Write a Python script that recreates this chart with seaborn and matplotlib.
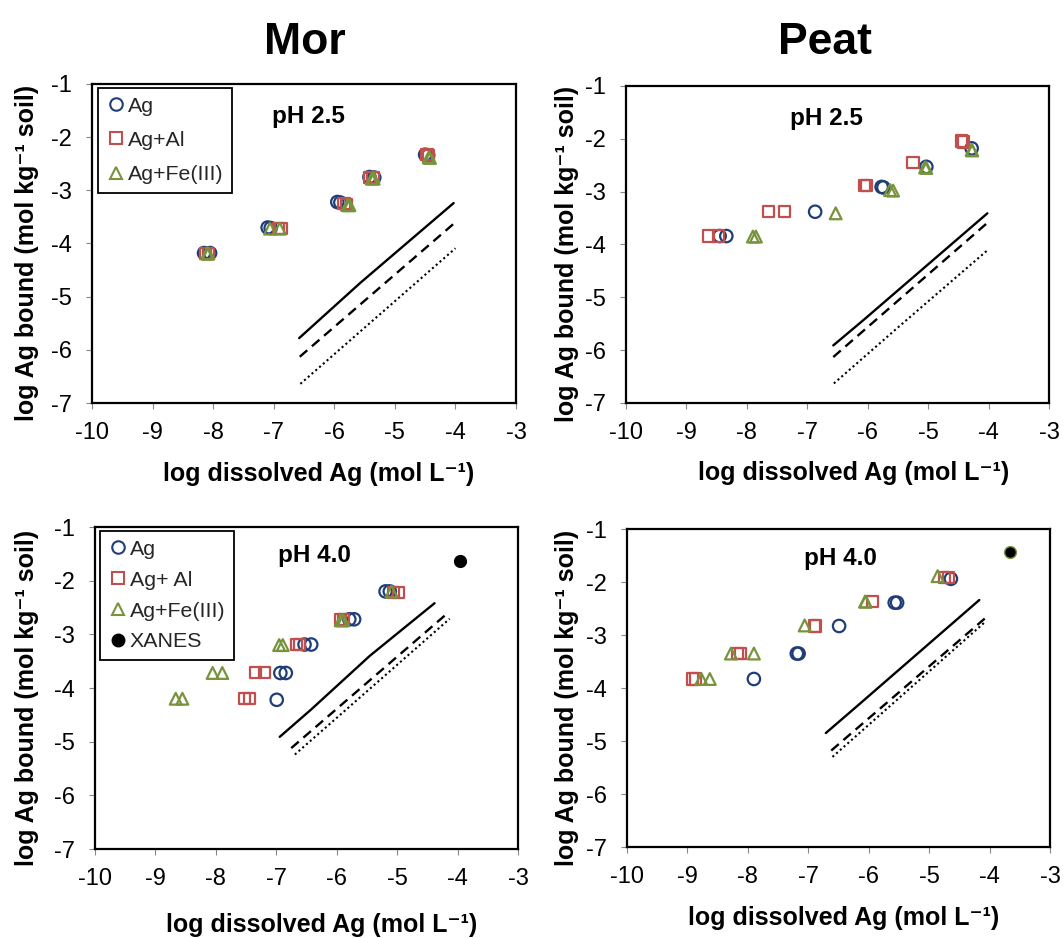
import matplotlib
matplotlib.use("Agg")
import matplotlib.pyplot as plt
from matplotlib.lines import Line2D
import seaborn as sns

# ---------------- data ----------------
# Mor, pH 2.5
mor25_ag_x = [-8.15, -8.05, -7.10, -7.05, -5.95, -5.90, -5.42, -5.34, -4.50, -4.45]
mor25_ag_y = [-4.18, -4.18, -3.70, -3.71, -3.22, -3.23, -2.75, -2.76, -2.33, -2.34]
mor25_al_x = [-8.13, -8.08, -6.92, -6.88, -5.84, -5.80, -5.42, -5.36, -4.47, -4.44]
mor25_al_y = [-4.18, -4.18, -3.72, -3.72, -3.25, -3.26, -2.76, -2.76, -2.33, -2.34]
mor25_fe_x = [-8.10, -8.08, -7.06, -6.90, -5.78, -5.75, -5.38, -5.35, -4.44, -4.42]
mor25_fe_y = [-4.19, -4.19, -3.72, -3.72, -3.28, -3.28, -2.78, -2.78, -2.38, -2.39]
mor25_solid_x = [-6.58, -5.57, -4.03]
mor25_solid_y = [-5.78, -4.74, -3.24]
mor25_dash_x = [-6.57, -4.00]
mor25_dash_y = [-6.13, -3.60]
mor25_dot_x = [-6.56, -4.00]
mor25_dot_y = [-6.64, -4.09]

# Peat, pH 2.5
peat25_ag_x = [-8.45, -8.34, -6.87, -5.77, -5.74, -5.03, -4.28]
peat25_ag_y = [-3.84, -3.84, -3.38, -2.91, -2.92, -2.53, -2.18]
peat25_al_x = [-8.63, -8.47, -7.64, -7.38, -6.06, -6.02, -5.25, -4.45, -4.42]
peat25_al_y = [-3.84, -3.84, -3.37, -3.37, -2.88, -2.88, -2.45, -2.04, -2.06]
peat25_fe_x = [-7.90, -7.85, -6.53, -5.63, -5.58, -5.05, -5.03, -4.28, -4.27]
peat25_fe_y = [-3.85, -3.85, -3.41, -2.97, -2.98, -2.54, -2.55, -2.21, -2.22]
peat25_solid_x = [-6.57, -6.07, -4.02]
peat25_solid_y = [-5.91, -5.43, -3.41]
peat25_dash_x = [-6.57, -4.02]
peat25_dash_y = [-6.13, -3.59]
peat25_dot_x = [-6.56, -5.52, -4.02]
peat25_dot_y = [-6.63, -5.59, -4.11]

# Mor, pH 4.0
mor40_ag_x = [-6.99, -6.93, -6.84, -6.53, -6.42, -5.79, -5.71, -5.19, -5.12]
mor40_ag_y = [-4.22, -3.72, -3.72, -3.19, -3.19, -2.72, -2.72, -2.20, -2.20]
mor40_al_x = [-7.53, -7.44, -7.34, -7.19, -6.66, -6.62, -5.94, -5.89, -5.06, -4.98]
mor40_al_y = [-4.20, -4.20, -3.71, -3.71, -3.19, -3.19, -2.72, -2.72, -2.22, -2.22]
mor40_fe_x = [-8.66, -8.55, -8.05, -7.89, -6.95, -6.89, -5.93, -5.89, -5.09]
mor40_fe_y = [-4.20, -4.20, -3.72, -3.72, -3.20, -3.20, -2.74, -2.74, -2.20]
mor40_xanes_x = [-3.96]
mor40_xanes_y = [-1.64]
mor40_solid_x = [-6.94, -6.42, -5.45, -4.38]
mor40_solid_y = [-4.91, -4.40, -3.40, -2.42]
mor40_dash_x = [-6.75, -4.19]
mor40_dash_y = [-5.12, -2.63]
mor40_dot_x = [-6.69, -4.13]
mor40_dot_y = [-5.24, -2.71]

# Peat, pH 4.0
peat40_ag_x = [-7.90, -7.19, -7.16, -6.49, -5.57, -5.53, -4.64]
peat40_ag_y = [-3.83, -3.35, -3.35, -2.83, -2.39, -2.39, -1.94]
peat40_al_x = [-8.92, -8.87, -8.17, -8.12, -6.90, -6.88, -5.94, -4.74, -4.68]
peat40_al_y = [-3.83, -3.83, -3.35, -3.35, -2.83, -2.83, -2.37, -1.92, -1.92]
peat40_fe_x = [-8.77, -8.63, -8.28, -7.90, -7.06, -6.06, -6.05, -4.86]
peat40_fe_y = [-3.83, -3.83, -3.35, -3.35, -2.82, -2.37, -2.37, -1.89]
peat40_xanes_x = [-3.67]
peat40_xanes_y = [-1.43]
peat40_solid_x = [-6.71, -6.16, -4.17]
peat40_solid_y = [-4.85, -4.31, -2.34]
peat40_dash_x = [-6.62, -4.08]
peat40_dash_y = [-5.18, -2.69]
peat40_dot_x = [-6.60, -4.07]
peat40_dot_y = [-5.30, -2.75]

x_ticks = [-10, -9, -8, -7, -6, -5, -4, -3]
y_ticks = [-7, -6, -5, -4, -3, -2, -1]
column_titles = ["Mor", "Peat"]
legend_labels_25 = ["Ag", "Ag+Al", "Ag+Fe(III)"]
legend_labels_40 = ["Ag", "Ag+ Al", "Ag+Fe(III)", "XANES"]

# ---------------- style ----------------
sns.set_theme(style="white")
plt.rcParams["font.family"] = ["Liberation Sans", "DejaVu Sans"]
plt.rcParams["axes.unicode_minus"] = False

C_AG = "#1F3E78"
C_AL = "#C0504D"
C_FE = "#77933C"

fig = plt.figure(figsize=(10.63, 9.38), dpi=100)
fig.patch.set_facecolor("white")

W, H = 1063.0, 938.0
def add_ax(l, t, r, b):
    return fig.add_axes([l / W, 1 - b / H, (r - l) / W, (b - t) / H])

ax_tl = add_ax(92, 84, 516, 403)
ax_tr = add_ax(626, 86, 1049, 403)
ax_bl = add_ax(94.7, 527, 518, 849)
ax_br = add_ax(627, 529, 1050, 847)

XLAB = "log dissolved Ag (mol L\u207b\u00b9)"
YLAB = "log Ag bound (mol kg\u207b\u00b9 soil)"


def draw_panel(ax, ag, al, fe, solid, dash, dot, ph_text, ph_xy,
               xlab_xy, ylab_xy, xanes=None, xanes_edge="black"):
    for (xs, ys), c, m, s in [(ag, C_AG, "o", 80), (al, C_AL, "s", 64), (fe, C_FE, "^", 72)]:
        sns.scatterplot(x=xs, y=ys, ax=ax, marker=m, s=s, color=c,
                        facecolor="none", edgecolor=c, linewidth=1.6,
                        legend=False, zorder=3)
    if xanes is not None:
        sns.scatterplot(x=xanes[0], y=xanes[1], ax=ax, marker="o", s=72,
                        color="black", edgecolor=xanes_edge, linewidth=1.0,
                        legend=False, zorder=3)
    sns.lineplot(x=solid[0], y=solid[1], ax=ax, color="black", linewidth=1.7,
                 sort=False, estimator=None, legend=False)
    sns.lineplot(x=dash[0], y=dash[1], ax=ax, color="black", linewidth=1.7,
                 linestyle=(0, (4.2, 2.6)), sort=False, estimator=None, legend=False)
    sns.lineplot(x=dot[0], y=dot[1], ax=ax, color="black", linewidth=1.5,
                 linestyle=(0, (1, 1.4)), sort=False, estimator=None, legend=False)

    ax.set_xlim(-10, -3)
    ax.set_ylim(-7, -1)
    ax.set_xticks(x_ticks)
    ax.set_yticks(y_ticks)
    ax.set_xticklabels([str(v) for v in x_ticks])
    ax.set_yticklabels([str(v) for v in y_ticks])
    ax.tick_params(axis="x", which="both", bottom=True, top=False, direction="out",
                   length=4.3, width=0.8, color="#888888", labelsize=17, pad=9.5,
                   labelcolor="black")
    ax.tick_params(axis="y", which="both", left=True, right=False, direction="out",
                   length=4.3, width=0.8, color="#888888", labelsize=17, pad=10,
                   labelcolor="black")
    for sp in ax.spines.values():
        sp.set_visible(True)
        sp.set_color("black")
        sp.set_linewidth(1.6)
    ax.set_facecolor("white")
    ax.grid(False)

    ax.text(ph_xy[0], ph_xy[1], ph_text, ha="center", va="center",
            fontsize=17.5, fontweight="bold", color="black")

    ax.set_xlabel(XLAB, fontsize=18, fontweight="bold", color="black")
    ax.set_ylabel(YLAB, fontsize=18, fontweight="bold", color="black")
    ax.xaxis.set_label_coords(*xlab_xy)
    ax.yaxis.set_label_coords(*ylab_xy)


draw_panel(ax_tl, (mor25_ag_x, mor25_ag_y), (mor25_al_x, mor25_al_y),
           (mor25_fe_x, mor25_fe_y), (mor25_solid_x, mor25_solid_y),
           (mor25_dash_x, mor25_dash_y), (mor25_dot_x, mor25_dot_y),
           "pH 2.5", (-6.42, -1.62), (0.534, -0.185), (-0.125, 0.47))
draw_panel(ax_tr, (peat25_ag_x, peat25_ag_y), (peat25_al_x, peat25_al_y),
           (peat25_fe_x, peat25_fe_y), (peat25_solid_x, peat25_solid_y),
           (peat25_dash_x, peat25_dash_y), (peat25_dot_x, peat25_dot_y),
           "pH 2.5", (-6.69, -1.61), (0.539, -0.183), (-0.111, 0.47))
draw_panel(ax_bl, (mor40_ag_x, mor40_ag_y), (mor40_al_x, mor40_al_y),
           (mor40_fe_x, mor40_fe_y), (mor40_solid_x, mor40_solid_y),
           (mor40_dash_x, mor40_dash_y), (mor40_dot_x, mor40_dot_y),
           "pH 4.0", (-6.36, -1.54), (0.536, -0.200), (-0.131, 0.47),
           xanes=(mor40_xanes_x, mor40_xanes_y), xanes_edge="black")
draw_panel(ax_br, (peat40_ag_x, peat40_ag_y), (peat40_al_x, peat40_al_y),
           (peat40_fe_x, peat40_fe_y), (peat40_solid_x, peat40_solid_y),
           (peat40_dash_x, peat40_dash_y), (peat40_dot_x, peat40_dot_y),
           "pH 4.0", (-6.47, -1.55), (0.512, -0.186), (-0.113, 0.47),
           xanes=(peat40_xanes_x, peat40_xanes_y), xanes_edge=C_FE)


def marker_handle(m, c, filled=False, ms=9):
    return Line2D([], [], linestyle="", marker=m, markersize=ms,
                  markerfacecolor=(c if filled else "none"),
                  markeredgecolor=c, markeredgewidth=1.5)


h25 = [marker_handle("o", C_AG, ms=9), marker_handle("s", C_AL, ms=8),
       marker_handle("^", C_FE, ms=8.5)]
leg = ax_tl.legend(h25, legend_labels_25, loc="upper left",
                   bbox_to_anchor=(6 / 424, 1 - 4 / 319), borderaxespad=0,
                   fontsize=15.4, frameon=True, fancybox=False, framealpha=1,
                   edgecolor="black", handlelength=0.9, handletextpad=0.1,
                   borderpad=0.4, labelspacing=0.72)
leg.get_frame().set_linewidth(1.3)

h40 = h25 + [marker_handle("o", "black", filled=True, ms=8.5)]
leg2 = ax_bl.legend(h40, legend_labels_40, loc="upper left",
                    bbox_to_anchor=(5 / 423, 1 - 4 / 322), borderaxespad=0,
                    fontsize=15.4, frameon=True, fancybox=False, framealpha=1,
                    edgecolor="black", handlelength=0.9, handletextpad=0.1,
                    borderpad=0.4, labelspacing=0.56)
leg2.get_frame().set_linewidth(1.3)

fig.text(305 / W, 1 - 54 / H, column_titles[0], ha="center", va="baseline",
         fontsize=32, fontweight="bold", color="black")
fig.text(825 / W, 1 - 54 / H, column_titles[1], ha="center", va="baseline",
         fontsize=32, fontweight="bold", color="black")

fig.savefig("out.png", dpi=100, facecolor="white")
